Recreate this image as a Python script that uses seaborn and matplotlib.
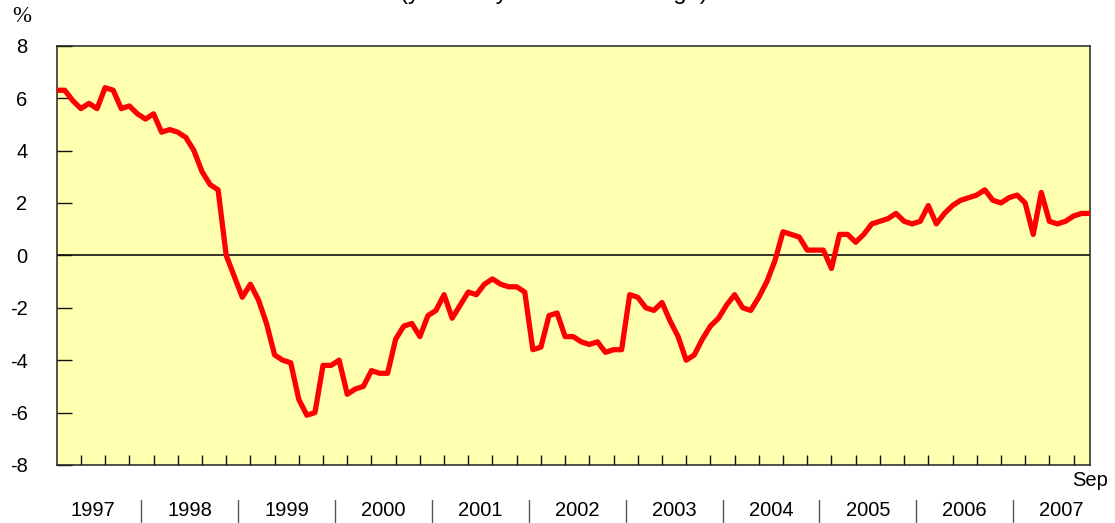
import numpy as np
import pandas as pd
import seaborn as sns
import matplotlib
matplotlib.use("Agg")
import matplotlib.pyplot as plt
import matplotlib.transforms as mtransforms

# Composite CPI, year-on-year % change, monthly Jan 1997 - Sep 2007
cpi_1997 = [6.3, 6.3, 5.9, 5.6, 5.8, 5.6, 6.4, 6.3, 5.6, 5.7, 5.4, 5.2]
cpi_1998 = [5.4, 4.7, 4.8, 4.7, 4.5, 4.0, 3.2, 2.7, 2.5, 0.0, -0.8, -1.6]
cpi_1999 = [-1.1, -1.7, -2.6, -3.8, -4.0, -4.1, -5.5, -6.1, -6.0, -4.2, -4.2, -4.0]
cpi_2000 = [-5.3, -5.1, -5.0, -4.4, -4.5, -4.5, -3.2, -2.7, -2.6, -3.1, -2.3, -2.1]
cpi_2001 = [-1.5, -2.4, -1.9, -1.4, -1.5, -1.1, -0.9, -1.1, -1.2, -1.2, -1.4, -3.6]
cpi_2002 = [-3.5, -2.3, -2.2, -3.1, -3.1, -3.3, -3.4, -3.3, -3.7, -3.6, -3.6, -1.5]
cpi_2003 = [-1.6, -2.0, -2.1, -1.8, -2.5, -3.1, -4.0, -3.8, -3.2, -2.7, -2.4, -1.9]
cpi_2004 = [-1.5, -2.0, -2.1, -1.6, -1.0, -0.2, 0.9, 0.8, 0.7, 0.2, 0.2, 0.2]
cpi_2005 = [-0.5, 0.8, 0.8, 0.5, 0.8, 1.2, 1.3, 1.4, 1.6, 1.3, 1.2, 1.3]
cpi_2006 = [1.9, 1.2, 1.6, 1.9, 2.1, 2.2, 2.3, 2.5, 2.1, 2.0, 2.2, 2.3]
cpi_2007 = [2.0, 0.8, 2.4, 1.3, 1.2, 1.3, 1.5, 1.6, 1.6]

years = ["1997", "1998", "1999", "2000", "2001", "2002", "2003", "2004", "2005", "2006", "2007"]
y_ticks = [-8, -6, -4, -2, 0, 2, 4, 6, 8]
last_month_label = "Sep"
title_text = "(year-on-year rate of change)"
unit_label = "%"

values = (cpi_1997 + cpi_1998 + cpi_1999 + cpi_2000 + cpi_2001 + cpi_2002
          + cpi_2003 + cpi_2004 + cpi_2005 + cpi_2006 + cpi_2007)
df = pd.DataFrame({"month": np.arange(len(values)), "cpi": values})

sns.set_theme(style="white")
plt.rcParams["font.family"] = ["Liberation Sans", "DejaVu Sans"]
plt.rcParams["text.color"] = "black"
plt.rcParams["ytick.color"] = "black"
plt.rcParams["xtick.color"] = "black"

W, H = 1115, 523
FS = 14.5
fig = plt.figure(figsize=(W / 100, H / 100), dpi=100)
ax = fig.add_axes([56.7 / W, 1 - 465 / H, (1089.7 - 56.7) / W, (465 - 45.7) / H])
ax.set_facecolor("#ffffb0")

sns.lineplot(data=df, x="month", y="cpi", ax=ax, color="#ff0000",
             linewidth=3.8, zorder=3)
ax.axhline(0, color="#111111", linewidth=1.2, zorder=2)

n = len(values)
ax.set_xlim(0, n - 1)
ax.set_ylim(-8, 8)
ax.set_xlabel("")
ax.set_ylabel("")

# quarterly ticks along the bottom, no labels
ax.set_xticks(np.arange(3, n - 1, 3))
ax.tick_params(axis="x", direction="in", length=7.5, width=1.0, color="#111111",
               labelbottom=False, bottom=True)
ax.set_yticks(y_ticks)
ax.set_yticklabels([str(v) for v in y_ticks])
ax.tick_params(axis="y", direction="in", length=11, width=1.0, color="#111111",
               pad=21, labelsize=FS, labelcolor="black", left=True)

for s in ax.spines.values():
    s.set_color("#222222")
    s.set_linewidth(1.1)
    s.set_visible(True)

# year labels and separators under the axis
trans = mtransforms.blended_transform_factory(ax.transData, ax.transAxes)
for k, yr in enumerate(years):
    ax.text(4.5 + 12 * k, -0.1097, yr, transform=trans, ha="center", va="center",
            fontsize=FS, color="black", clip_on=False)
    if k < len(years) - 1:
        ax.plot([10.5 + 12 * k] * 2, [-0.0835, -0.136], transform=trans,
                color="#555555", linewidth=1.0, clip_on=False)

ax.text(n - 1, -0.038, last_month_label, transform=trans, ha="center", va="center",
        fontsize=FS, color="black", clip_on=False)

fig.text(22 / W, 1 - 16 / H, unit_label, ha="center", va="center",
         fontsize=16.5, family=["Liberation Serif", "DejaVu Serif"], color="black")
fig.text(0.497, 1 + 0.5 / H, title_text, ha="center", va="baseline",
         fontsize=17, color="black")

fig.savefig("out.png", dpi=100)
